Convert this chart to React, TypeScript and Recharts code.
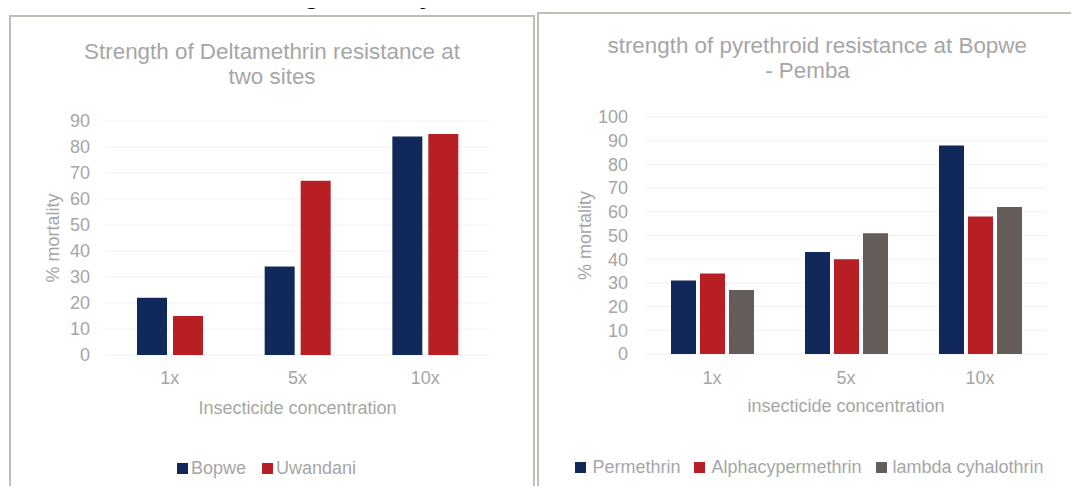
import React from 'react';
import { BarChart, Bar, XAxis, YAxis, CartesianGrid, Legend, Label } from 'recharts';

// Concentration levels tested (multiples of the diagnostic dose)
const categories = ['1x', '5x', '10x'];

// Deltamethrin mortality (%) at the two sites
const bopwe = [22, 34, 84];
const uwandani = [15, 67, 85];

// Pyrethroid mortality (%) at Bopwe - Pemba
const permethrin = [31, 43, 88];
const alphacypermethrin = [34, 40, 58];
const lambdaCyhalothrin = [27, 51, 62];

const deltaTicks = [0, 10, 20, 30, 40, 50, 60, 70, 80, 90];
const pyrethroidTicks = [0, 10, 20, 30, 40, 50, 60, 70, 80, 90, 100];

const deltaSeries = ['Bopwe', 'Uwandani'];
const pyrethroidSeries = ['Permethrin', 'Alphacypermethrin', 'lambda cyhalothrin'];

const deltaData = categories.map((c, i) => ({
  concentration: c,
  Bopwe: bopwe[i],
  Uwandani: uwandani[i],
}));

const pyrethroidData = categories.map((c, i) => ({
  concentration: c,
  Permethrin: permethrin[i],
  Alphacypermethrin: alphacypermethrin[i],
  'lambda cyhalothrin': lambdaCyhalothrin[i],
}));

const FONT = '"Liberation Sans", Arial, Helvetica, sans-serif';
const TEXT = '#a6a6a6';
const NAVY = '#10295a';
const RED = '#b81f24';
const TAUPE = '#655d5a';
const GRID = '#f0f0f0';
const FRAME = '#c1bdb7';

const W = 1079;
const H = 494;

type LegendProps = { payload?: any[]; order: string[]; markerGap: number; itemGap: number };

function SwatchLegend({ payload, order, markerGap, itemGap }: LegendProps) {
  const items = [...(payload || [])].sort(
    (a: any, b: any) => order.indexOf(String(a.dataKey ?? a.value)) - order.indexOf(String(b.dataKey ?? b.value))
  );
  return (
    <div
      style={{
        display: 'flex',
        justifyContent: 'center',
        alignItems: 'center',
        whiteSpace: 'nowrap',
        fontFamily: FONT,
        fontSize: 18,
        color: TEXT,
        lineHeight: '20px',
      }}
    >
      {items.map((p: any, i: number) => (
        <span
          key={p.value}
          style={{ display: 'inline-flex', alignItems: 'center', marginLeft: i ? itemGap : 0 }}
        >
          <span
            style={{ display: 'inline-block', width: 11, height: 11, background: p.color, marginRight: markerGap }}
          />
          {p.value}
        </span>
      ))}
    </div>
  );
}

const tickStyle = { fill: TEXT, fontSize: 18, fontFamily: FONT };

export default function App() {
  return (
    <div
      style={{
        position: 'relative',
        width: W,
        height: H,
        margin: -8,
        overflow: 'hidden',
        background: '#ffffff',
        fontFamily: FONT,
      }}
    >
      {/* chart frames */}
      <div
        style={{
          position: 'absolute',
          left: 9,
          top: 14.5,
          width: 526,
          height: 520,
          boxSizing: 'border-box',
          border: `2px solid ${FRAME}`,
        }}
      />
      <div
        style={{
          position: 'absolute',
          left: 536.5,
          top: 11.5,
          width: 600,
          height: 520,
          boxSizing: 'border-box',
          border: `2px solid ${FRAME}`,
        }}
      />

      {/* titles */}
      <div
        style={{
          position: 'absolute',
          left: 72,
          width: 400,
          top: 39,
          textAlign: 'center',
          fontSize: 22.4,
          lineHeight: '25px',
          color: TEXT,
          whiteSpace: 'nowrap',
        }}
      >
        Strength of Deltamethrin resistance at
        <br />
        two sites
      </div>
      <div
        style={{
          position: 'absolute',
          left: 607.5,
          width: 400,
          top: 32.5,
          textAlign: 'center',
          fontSize: 22.4,
          lineHeight: '25px',
          color: TEXT,
          whiteSpace: 'nowrap',
        }}
      >
        strength of pyrethroid resistance at Bopwe
        <br />
        - Pemba
      </div>

      {/* Deltamethrin chart */}
      <div style={{ position: 'absolute', left: 0, top: 0 }}>
        <BarChart
          width={W}
          height={H}
          data={deltaData}
          margin={{ top: 121, right: W - 489, bottom: H - 355 - 30, left: 0 }}
          barGap={6}
          barSize={30}
        >
          <CartesianGrid vertical={false} stroke={GRID} />
          <XAxis
            dataKey="concentration"
            height={30}
            axisLine={false}
            tickLine={false}
            tickSize={0}
            tickMargin={16.5}
            tick={tickStyle}
          >
            <Label
              value="Insecticide concentration"
              position="bottom"
              offset={16}
              fill={TEXT}
              fontSize={18}
              fontFamily={FONT}
            />
          </XAxis>
          <YAxis
            width={106}
            domain={[0, 90]}
            ticks={deltaTicks}
            interval={0}
            axisLine={false}
            tickLine={false}
            tickSize={0}
            tickMargin={16}
            tick={tickStyle}
          >
            <Label
              value="% mortality"
              angle={-90}
              position="center"
              fill={TEXT}
              fontSize={18}
              fontFamily={FONT}
            />
          </YAxis>
          <Legend
            layout="horizontal"
            verticalAlign="middle"
            align="center"
            wrapperStyle={{ left: 166.5, top: 458, width: 200, height: 20 }}
            content={(props: any) => (
              <SwatchLegend payload={props.payload} order={deltaSeries} markerGap={3} itemGap={16} />
            )}
          />
          {deltaSeries.map((key, i) => (
            <Bar key={key} dataKey={key} fill={[NAVY, RED][i]} isAnimationActive={false} />
          ))}
        </BarChart>
      </div>

      {/* Pyrethroid chart */}
      <div style={{ position: 'absolute', left: 0, top: 0 }}>
        <BarChart
          width={W}
          height={H}
          data={pyrethroidData}
          margin={{ top: 117, right: W - 1047, bottom: H - 354 - 30, left: 525 }}
          barGap={4}
          barSize={25}
        >
          <CartesianGrid vertical={false} stroke={GRID} />
          <XAxis
            dataKey="concentration"
            height={30}
            axisLine={false}
            tickLine={false}
            tickSize={0}
            tickMargin={17.5}
            tick={tickStyle}
          >
            <Label
              value="insecticide concentration"
              position="bottom"
              offset={15}
              fill={TEXT}
              fontSize={18}
              fontFamily={FONT}
            />
          </XAxis>
          <YAxis
            width={120}
            domain={[0, 100]}
            ticks={pyrethroidTicks}
            interval={0}
            axisLine={false}
            tickLine={false}
            tickSize={0}
            tickMargin={17}
            tick={tickStyle}
          >
            <Label
              value="% mortality"
              angle={-90}
              position="center"
              fill={TEXT}
              fontSize={18}
              fontFamily={FONT}
            />
          </YAxis>
          <Legend
            layout="horizontal"
            verticalAlign="middle"
            align="center"
            wrapperStyle={{ left: 559.5, top: 457, width: 500, height: 20 }}
            content={(props: any) => (
              <SwatchLegend payload={props.payload} order={pyrethroidSeries} markerGap={6} itemGap={14} />
            )}
          />
          {pyrethroidSeries.map((key, i) => (
            <Bar key={key} dataKey={key} fill={[NAVY, RED, TAUPE][i]} isAnimationActive={false} />
          ))}
        </BarChart>
      </div>

      {/* document heading running above the two chart frames */}
      <svg
        width={W}
        height={14}
        style={{ position: 'absolute', left: 0, top: 0, zIndex: 5 }}
      >
        <text x={229} y={4} fontFamily={FONT} fontSize={26} fontWeight="bold" fill="#000">
          Testing intensity of resistance
        </text>
      </svg>
    </div>
  );
}
